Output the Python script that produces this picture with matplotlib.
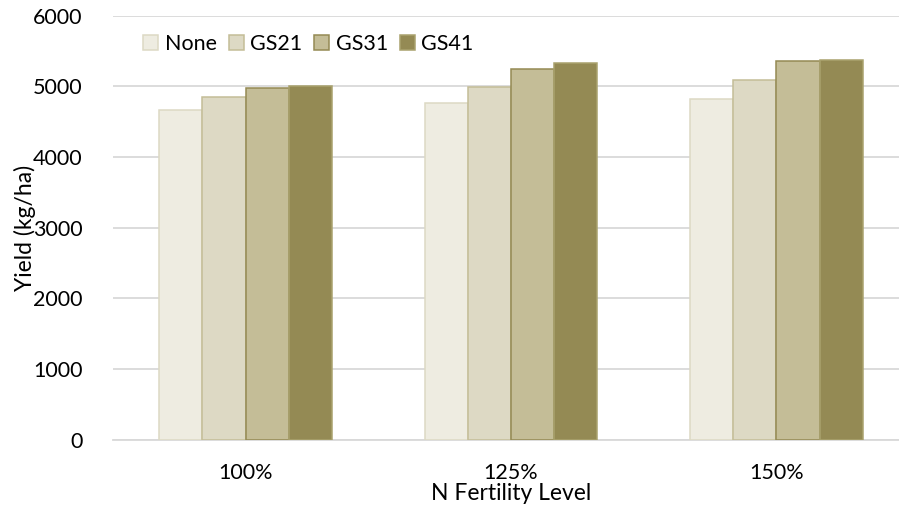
import numpy as np
import matplotlib.pyplot as plt

plt.rcParams['font.family'] = ['Lato', 'DejaVu Sans']

levels = ['100%', '125%', '150%']
treatments = ['None', 'GS21', 'GS31', 'GS41']
none_yield = [4663, 4766, 4823]
gs21_yield = [4851, 4984, 5091]
gs31_yield = [4979, 5243, 5350]
gs41_yield = [5007, 5328, 5365]

fills = ['#EEECE1', '#DDD9C4', '#C4BD97', '#948A54']
edges = ['#DDD9C4', '#C4BD97', '#948A54', '#A9A26E']

fig = plt.figure(figsize=(8.99, 5.09), dpi=100)
ax = fig.add_axes([113 / 899, 1 - 439.5 / 509, 796 / 899, 424 / 509])

x = np.arange(len(levels))
w = 0.163
series = [none_yield, gs21_yield, gs31_yield, gs41_yield]
for i, vals in enumerate(series):
    ax.bar(x + (i - 1.5) * w, vals, w, color=fills[i], edgecolor=edges[i],
           linewidth=1.1, label=treatments[i], zorder=3)

ax.set_xlim(-0.5, 2.5)
ax.set_ylim(0, 6000)
ax.set_yticks(range(0, 6001, 1000))
ax.set_xticks(x)
ax.set_xticklabels(levels)
ax.tick_params(axis='both', length=0, labelsize=15.5, colors='#000000')
ax.tick_params(axis='y', pad=22)
ax.tick_params(axis='x', pad=17)
ax.grid(axis='y', color='#D9D9D9', linewidth=1.3, zorder=0)
for s in ['top', 'right', 'left']:
    ax.spines[s].set_visible(False)
ax.spines['bottom'].set_color('#D9D9D9')
ax.spines['bottom'].set_linewidth(1.3)

ax.set_ylabel('Yield (kg/ha)', fontsize=16.5, labelpad=-2)
ax.set_xlabel('N Fertility Level', fontsize=16.5, labelpad=0)

ax.legend(loc='upper left', bbox_to_anchor=(0.015, 1.0), ncol=4, frameon=False,
          fontsize=15.5, handlelength=0.7, handleheight=0.7, handletextpad=0.3,
          columnspacing=0.55, borderaxespad=0.45)

fig.savefig('out.png', dpi=100)
